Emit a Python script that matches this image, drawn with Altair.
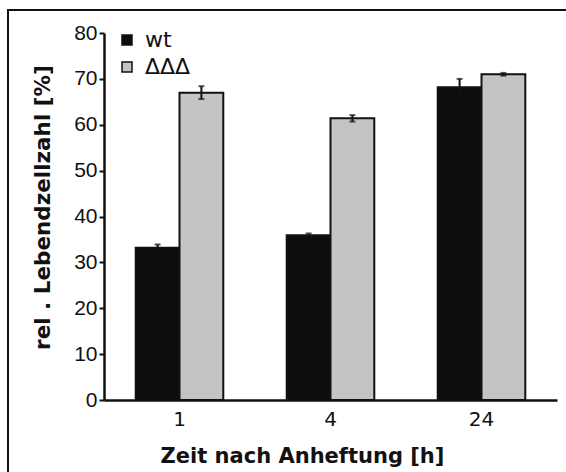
import altair as alt
import pandas as pd

# Time points after attachment (h)
times = ["1", "4", "24"]
strains = ["wt", "ΔΔΔ"]

# Relative live-cell count [%] with error
wt_values = [33.2, 35.9, 68.2]
wt_errors = [0.7, 0.4, 1.8]
ddd_values = [67.0, 61.4, 71.0]
ddd_errors = [1.4, 0.7, 0.3]

rows = []
for t, v, e in zip(times, wt_values, wt_errors):
    rows.append({"Zeit": t, "Stamm": "wt", "Wert": v, "lo": v - e, "hi": v + e})
for t, v, e in zip(times, ddd_values, ddd_errors):
    rows.append({"Zeit": t, "Stamm": "ΔΔΔ", "Wert": v, "lo": v - e, "hi": v + e})
df = pd.DataFrame(rows)

FONT = "Liberation Sans"
TITLE_FONT = "DejaVu Sans"
W, H = 453, 367

x_enc = alt.X(
    "Zeit:N",
    sort=times,
    scale=alt.Scale(paddingInner=0.42, paddingOuter=0.21),
    axis=alt.Axis(
        title="Zeit nach Anheftung [h]",
        labelAngle=0,
        labelFont=TITLE_FONT,
        labelFontSize=20,
        labelColor="#111",
        labelPadding=9,
        ticks=False,
        domainColor="#111",
        domainWidth=2.5,
        titleFont=TITLE_FONT,
        titleFontSize=21,
        titleFontWeight="bold",
        titleColor="#111",
        titleX=198,
        titleY=62,
        titleAlign="center",
        titleBaseline="alphabetic",
    ),
)
y_enc = alt.Y(
    "Wert:Q",
    scale=alt.Scale(domain=[0, 80], nice=False),
    axis=alt.Axis(
        title="rel . Lebendzellzahl [%]",
        values=list(range(0, 81, 10)),
        grid=False,
        labelFont=FONT,
        labelFontSize=21,
        labelColor="#111",
        labelPadding=2,
        tickSize=5,
        tickWidth=2,
        tickColor="#111",
        domainColor="#111",
        domainWidth=2.5,
        titleFont=TITLE_FONT,
        titleFontSize=21.5,
        titleFontWeight="bold",
        titleColor="#111",
        titleAngle=-90,
        titleX=-55,
        titleY=174,
        titleAlign="center",
        titleBaseline="alphabetic",
    ),
)

color_enc = alt.Color(
    "Stamm:N",
    scale=alt.Scale(domain=strains, range=["#0d0d0d", "#c4c4c4"]),
    legend=alt.Legend(
        title=None,
        orient="none",
        legendX=12,
        legendY=-4,
        symbolType="square",
        symbolSize=100,
        symbolStrokeColor="#111",
        symbolStrokeWidth=1.5,
        labelFont=TITLE_FONT,
        labelFontSize=22,
        labelColor="#111",
        labelOffset=7,
        rowPadding=5,
    ),
)

bars = alt.Chart(df).mark_bar(stroke="#111", strokeWidth=2).encode(
    x=x_enc,
    xOffset=alt.XOffset("Stamm:N", sort=strains),
    y=y_enc,
    color=color_enc,
)

err_rule = alt.Chart(df).mark_rule(color="#111", strokeWidth=2).encode(
    x=alt.X("Zeit:N", sort=times),
    xOffset=alt.XOffset("Stamm:N", sort=strains),
    y="lo:Q",
    y2="hi:Q",
)
cap_hi = alt.Chart(df).mark_tick(color="#111", size=6, thickness=2).encode(
    x=alt.X("Zeit:N", sort=times),
    xOffset=alt.XOffset("Stamm:N", sort=strains),
    y="hi:Q",
)
cap_lo = alt.Chart(df).mark_tick(color="#111", size=6, thickness=2).encode(
    x=alt.X("Zeit:N", sort=times),
    xOffset=alt.XOffset("Stamm:N", sort=strains),
    y="lo:Q",
)

# Figure frame: top and left edges (the others run off the page)
frame_top = alt.Chart(df).mark_rule(color="#111", strokeWidth=2, clip=False).encode(
    x=alt.value(-97), x2=alt.value(520), y=alt.value(-23)
)
frame_left = alt.Chart(df).mark_rule(color="#111", strokeWidth=2, clip=False).encode(
    x=alt.value(-96), y=alt.value(-24), y2=alt.value(520)
)

chart = (
    alt.layer(bars, err_rule, cap_hi, cap_lo, frame_top, frame_left)
    .properties(
        width=W,
        height=H,
        autosize=alt.AutoSizeParams(type="none"),
        padding={"left": 104, "top": 33, "right": 9, "bottom": 72},
    )
    .configure(font=FONT)
    .configure_view(stroke=None)
)

chart.save("out.html", embed_options={"renderer": "svg", "actions": False})
